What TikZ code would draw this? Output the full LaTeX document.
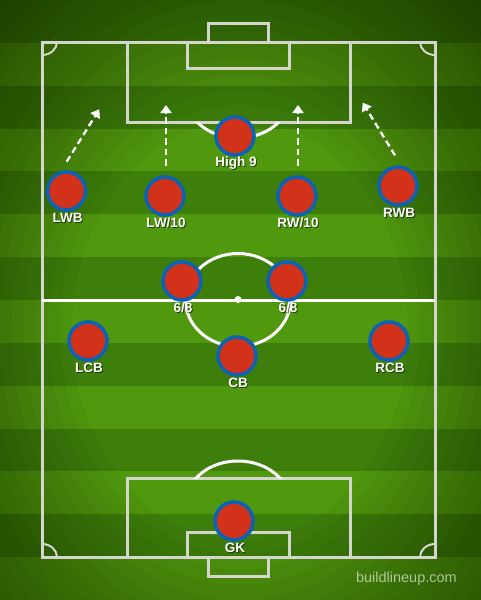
\documentclass[tikz,border=0pt]{standalone}
\usepackage{fontspec}
\setmainfont{Liberation Sans}
\usetikzlibrary{arrows.meta}
\definecolor{lightg}{RGB}{80,152,14}
\definecolor{darkg}{RGB}{62,127,11}
\definecolor{pred}{RGB}{210,50,26}
\definecolor{pblue}{RGB}{14,98,178}
\definecolor{lineg}{RGB}{212,214,206}
\newcommand\mylab[3]{%
  \node[pshadow] at ([shift={(2,28)}]#1.center) {#3};
  \node[ptext] (#2) at ([shift={(1,27)}]#1.center) {#3};}
\begin{document}
\begin{tikzpicture}[x=1pt,y=-1pt,
  player/.style={circle,fill=pred,draw=pblue,line width=3.6pt,minimum size=38pt,inner sep=0pt},
  ptext/.style={text=white,font=\bfseries\fontsize{13.5}{13.5}\selectfont,inner sep=0pt},
  pshadow/.style={text=black,text opacity=0.55,font=\bfseries\fontsize{13.5}{13.5}\selectfont,inner sep=0pt},
  pline/.style={draw=lineg,line width=3pt},
  wline/.style={draw=white,line width=3pt},
  run/.style={draw=white,line width=2.3pt,dash pattern=on 6.5pt off 4pt,-{Triangle[width=11pt,length=8pt]}}]
\useasboundingbox (0,0) rectangle (480,600);
% grass stripes
\fill[lightg] (-10,-10) rectangle (490,610);
\foreach \k in {0,2,...,12} {\fill[darkg] (-10,{\k*42.857}) rectangle (490,{(\k+1)*42.857});}
\fill[darkg] (-10,-10) rectangle (490,0);
% vignette
\foreach \s in {0.70,0.75,...,1.56} {
  \fill[black,fill opacity=0.035,even odd rule] (-20,-20) rectangle (500,620) (240,330) ellipse [x radius={\s*240}, y radius={\s*300}];}
% pitch lines
\draw[pline] (42,42) rectangle (435,557);
\draw[wline] (42,300) -- (435,300);
\draw[pline] (208,42) -- (208,23) -- (268,23) -- (268,42);
\draw[pline] (187,42) -- (187,68) -- (289,68) -- (289,42);
\draw[pline] (127,42) -- (127,122) -- (350,122) -- (350,42);
\draw[pline] (127,557) -- (127,478) -- (350,478) -- (350,557);
\draw[pline] (187,557) -- (187,532) -- (289,532) -- (289,557);
\draw[pline] (208,557) -- (208,576) -- (268,576) -- (268,557);
\draw[wline] (238,300) ellipse [x radius=52.5, y radius=46.5];
\fill[white] (238,299.5) circle (3.5);
\begin{scope}
  \clip (150,122) rectangle (330,170);
  \draw[wline] (238,96) ellipse [x radius=52, y radius=42];
\end{scope}
\begin{scope}
  \clip (150,478) rectangle (330,430);
  \draw[wline] (238,503) ellipse [x radius=52, y radius=42];
\end{scope}
\begin{scope}
  \clip (42,42) rectangle (435,557);
  \foreach \p in {(42,42),(435,42),(42,557),(435,557)} {\draw[pline,line width=2pt] \p ellipse [x radius=15, y radius=13];}
\end{scope}
% runs
\coordinate (a1s) at (66.7,161.7); \coordinate (a1e) at (99.3,109.3);
\coordinate (a2s) at (166,165.7);  \coordinate (a2e) at (166,105);
\coordinate (a3s) at (298,165.7);  \coordinate (a3e) at (298,105);
\coordinate (a4s) at (395,155.3);  \coordinate (a4e) at (362.7,102.7);
\draw[run] (a1s) -- (a1e);
\draw[run] (a2s) -- (a2e);
\draw[run] (a3s) -- (a3e);
\draw[run] (a4s) -- (a4e);
% players
\node[player] (hn) at (235,136) {};
\node[player] (lwb) at (66.5,191) {};
\node[player] (lw) at (165,196) {};
\node[player] (rw) at (297,196) {};
\node[player] (rwb) at (398,186) {};
\node[player] (m1) at (182,281) {};
\node[player] (m2) at (287,281) {};
\node[player] (lcb) at (88,341) {};
\node[player] (rcb) at (389,341) {};
\node[player] (cb) at (237,356) {};
\node[player] (gk) at (234,521) {};
\mylab{hn}{hnl}{High 9}
\mylab{lwb}{lwbl}{LWB}
\mylab{lw}{lwl}{LW/10}
\mylab{rw}{rwl}{RW/10}
\mylab{rwb}{rwbl}{RWB}
\mylab{m1}{m1l}{6/8}
\mylab{m2}{m2l}{6/8}
\mylab{lcb}{lcbl}{LCB}
\mylab{rcb}{rcbl}{RCB}
\mylab{cb}{cbl}{CB}
\mylab{gk}{gkl}{GK}
\node[text=white,text opacity=0.6,font=\fontsize{14.5}{14.5}\selectfont,inner sep=0pt,anchor=east] (wm) at (457,579) {buildlineup.com};
\end{tikzpicture}
\end{document}
